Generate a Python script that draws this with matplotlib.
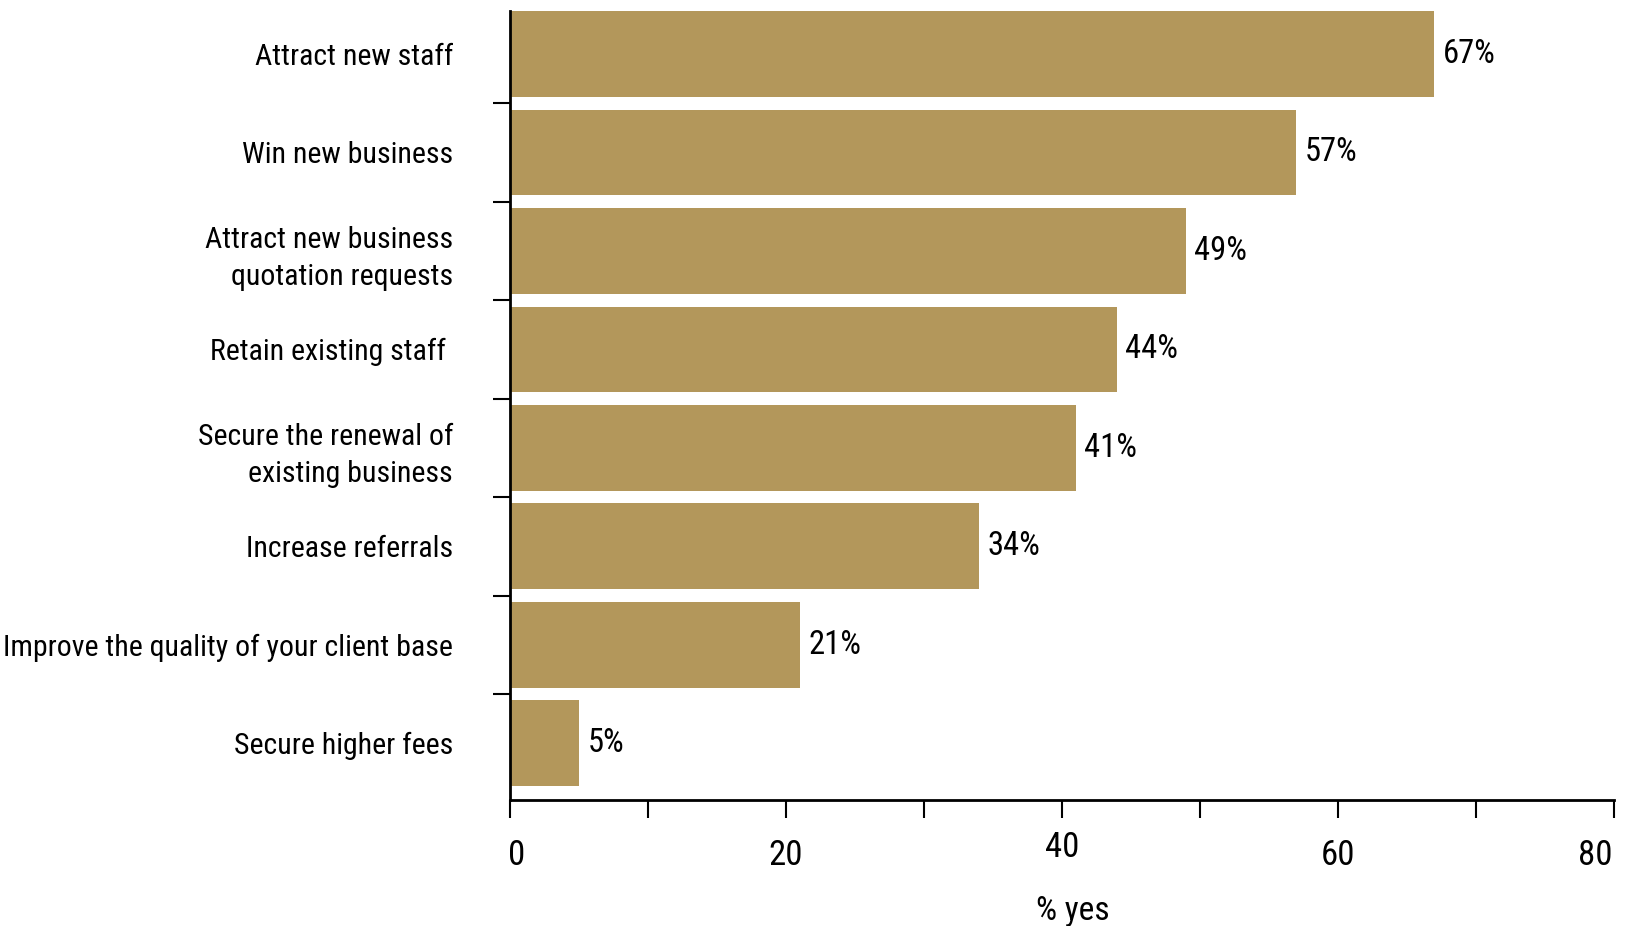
import matplotlib.pyplot as plt
import matplotlib.transforms as mtransforms
from matplotlib.ticker import FixedLocator

plt.rcParams['font.family'] = ['Roboto Condensed', 'DejaVu Sans']
plt.rcParams['font.stretch'] = 'condensed'

categories = [
    "Attract new staff",
    "Win new business",
    "Attract new business\nquotation requests",
    "Retain existing staff ",
    "Secure the renewal of\nexisting business",
    "Increase referrals",
    "Improve the quality of your client base",
    "Secure higher fees",
]
values = [67, 57, 49, 44, 41, 34, 21, 5]
x_ticks = [0, 20, 40, 60, 80]

bar_color = "#B3975B"

fig = plt.figure(figsize=(16.4, 9.26), dpi=100)
ax = fig.add_axes([0.311, 0.136, 0.673, 0.852])

pos = list(range(len(categories)))
bars = ax.barh(pos, values, height=0.87, color=bar_color)

# value labels just past the end of each bar
for p, v in zip(pos, values):
    ax.text(v + 0.6, p, f"{v}%", va="center", ha="left", fontsize=23.5)

ax.set_ylim(7.577, -0.435)
ax.set_xlim(0, 80)

# category labels at bar centres, tick marks between bars
ax.set_yticks(pos)
ax.set_yticklabels(categories, fontsize=21.5, ha="right", linespacing=1.4)
ax.tick_params(axis="y", which="major", length=0, pad=41)
ax.yaxis.set_minor_locator(FixedLocator([p + 0.5 for p in pos[:-1]]))
ax.tick_params(axis="y", which="minor", length=12, width=1.5, direction="out")

ax.set_xticks(x_ticks)
ax.set_xticklabels([str(t) for t in x_ticks], fontsize=25)
ax.xaxis.set_minor_locator(FixedLocator([10, 30, 50, 70]))
ax.tick_params(axis="x", which="both", length=13, width=1.5, direction="out")
ax.tick_params(axis="x", which="major", pad=15)
ax.xaxis.get_major_ticks()[2].set_pad(9)

# nudge the end labels inward
xt = ax.xaxis.get_major_ticks()
for tick, dx in [(xt[0], 5), (xt[-1], -13)]:
    off = mtransforms.ScaledTranslation(dx / 72, 0, fig.dpi_scale_trans)
    tick.label1.set_transform(tick.label1.get_transform() + off)

ax.set_xlabel("% yes", fontsize=24)
ax.xaxis.set_label_coords(0.51, -0.12)

for side in ["top", "right"]:
    ax.spines[side].set_visible(False)
ax.spines["left"].set_linewidth(2)
ax.spines["bottom"].set_linewidth(2)

plt.savefig("out.png", dpi=100)
